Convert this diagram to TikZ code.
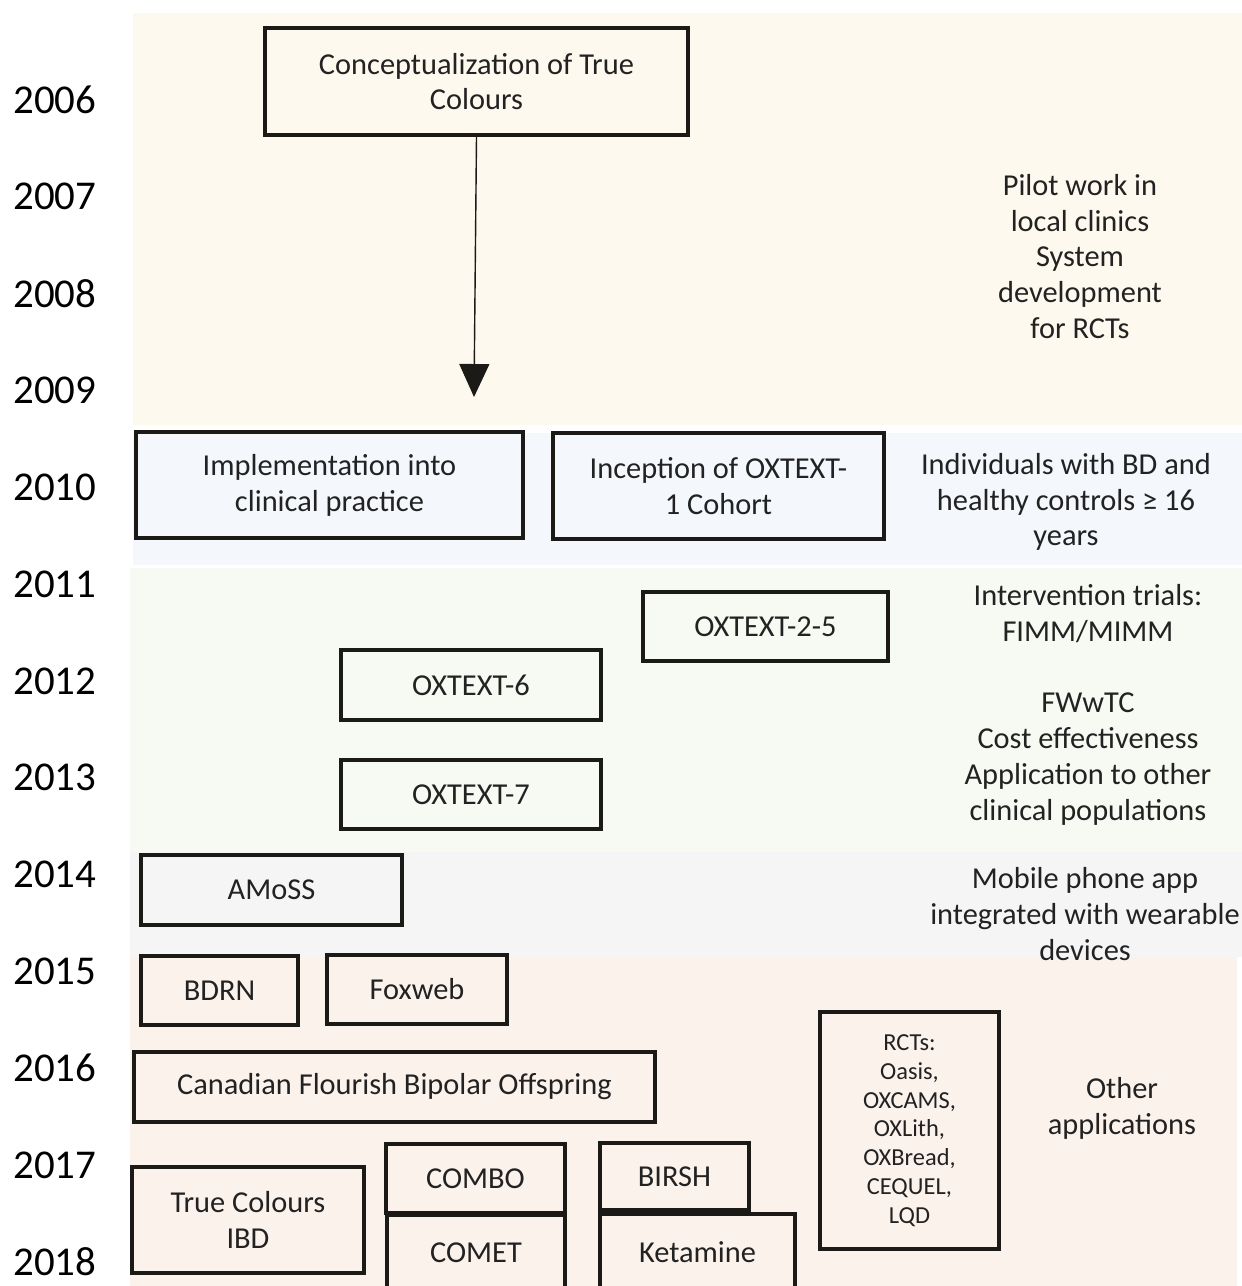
\documentclass[tikz,border=0pt]{standalone}
\usepackage{fontspec}
\setmainfont{Carlito}
\usepackage{xcolor}
\usepackage{tikz}
\usetikzlibrary{arrows.meta}
\definecolor{tline}{HTML}{1C1A17}
\definecolor{ttext}{HTML}{222222}
\definecolor{bcream}{HTML}{FEF9EF}
\definecolor{bblue}{HTML}{F4F7FC}
\definecolor{bgreen}{HTML}{F7F9F3}
\definecolor{bgray}{HTML}{F5F5F5}
\definecolor{bpink}{HTML}{FCF2EC}
\newcommand{\boxfont}{\fontsize{17.3}{20.4}\selectfont}
\newcommand{\yearfont}{\fontsize{23.3}{26}\selectfont}
\newcommand{\smallboxfont}{\fontsize{13.9}{16.4}\selectfont}
\tikzset{
  tbox/.style ={draw=tline, line width=2.2pt, text=ttext, align=center,
                font=\boxfont, inner sep=0pt},
  rbox/.style ={tbox, font=\smallboxfont},
  yearlbl/.style={font=\yearfont, text=black, anchor=west, inner sep=0pt},
  note/.style ={font=\boxfont, text=ttext, align=center},
  band/.style ={draw=none},
  flow/.style ={-{Triangle[length=6.6mm,width=6mm]}, line width=0.8pt, draw=tline},
}

\begin{document}
\begin{tikzpicture}[x=0.02cm, y=-0.02cm]
  \clip (0,0) rectangle (1242,1286);
  % period bands
  \fill[band, bcream] (133,13) rectangle (1242,425);
  \fill[band, bblue]  (133,433) rectangle (1242,565);
  \fill[band, bgreen] (130,568) rectangle (1242,852);
  \fill[band, bgray]  (130,852) rectangle (1242,957);
  \fill[band, bpink]  (130,957) rectangle (1237,1286);

  % years
  \foreach \yr [count=\i from 0] in {2006,...,2018}
    \node[yearlbl] (y\yr) at (13, 100+96.83*\i) {\yr};

  % 2006--2009
  \node[tbox, minimum width=8.46cm, minimum height=2.14cm] (concept) at (476.5,81.5)
    {Conceptualization of True\\Colours};
  \coordinate (arrowend) at (474,397);
  \draw[flow] (concept.south) -- (arrowend);
  \node[note] (pilot) at (1080,256.5)
    {Pilot work in\\local clinics\\System\\development\\for RCTs};

  % 2010
  \node[tbox, minimum width=7.74cm, minimum height=2.12cm] (impl) at (329.5,485)
    {Implementation into\\clinical practice};
  \node[tbox, minimum width=6.62cm, minimum height=2.12cm] (incep) at (718.5,486)
    {Inception of OXTEXT-\\1 Cohort};
  \node[note] (indiv) at (1066,502)
    {Individuals with BD and\\healthy controls ≥ 16\\years};

  % 2011--2013
  \node[tbox, minimum width=4.9cm, minimum height=1.38cm] (ox25) at (765.5,626.5) {OXTEXT-2-5};
  \node[tbox, minimum width=5.2cm, minimum height=1.4cm] (ox6) at (471,685) {OXTEXT-6};
  \node[tbox, minimum width=5.2cm, minimum height=1.38cm] (ox7) at (471,794.5) {OXTEXT-7};
  \node[note] (interv) at (1088,614) {Intervention trials:\\FIMM/MIMM};
  \node[note] (fwwtc) at (1088,759)
    {FWwTC\\Cost effectiveness\\Application to other\\clinical populations};

  % 2014
  \node[tbox, minimum width=5.22cm, minimum height=1.4cm] (amoss) at (271.5,890) {AMoSS};
  \node[note] (mobile) at (1085,914)
    {Mobile phone app\\integrated with wearable\\devices};

  % 2015--2018
  \node[tbox, minimum width=3.14cm, minimum height=1.38cm] (bdrn) at (219.5,990.5) {BDRN};
  \node[tbox, minimum width=3.6cm, minimum height=1.38cm] (foxweb) at (417,989.5) {Foxweb};
  \node[tbox, minimum width=10.42cm, minimum height=1.4cm] (canad) at (394.5,1087)
    {Canadian Flourish Bipolar Offspring};
  \node[rbox, minimum width=3.58cm, minimum height=4.74cm] (rcts) at (909.5,1130.5)
    {RCTs:\\Oasis,\\OXCAMS,\\OXLith,\\OXBread,\\CEQUEL,\\LQD};
  \node[note] (other) at (1122,1108) {Other\\applications};
  \node[tbox, minimum width=4.64cm, minimum height=2.12cm] (ibd) at (248,1220)
    {True Colours\\IBD};
  \node[tbox, minimum width=3.56cm, minimum height=1.5cm] (comet) at (476,1253) {COMET};
  \node[tbox, minimum width=3.58cm, minimum height=1.38cm] (combo) at (475.5,1178.5) {COMBO};
  \node[tbox, minimum width=3.9cm, minimum height=1.52cm] (ketamine) at (697.5,1252) {Ketamine};
  \node[tbox, minimum width=2.98cm, minimum height=1.34cm] (birsh) at (674.5,1176.5) {BIRSH};
\end{tikzpicture}
\end{document}
